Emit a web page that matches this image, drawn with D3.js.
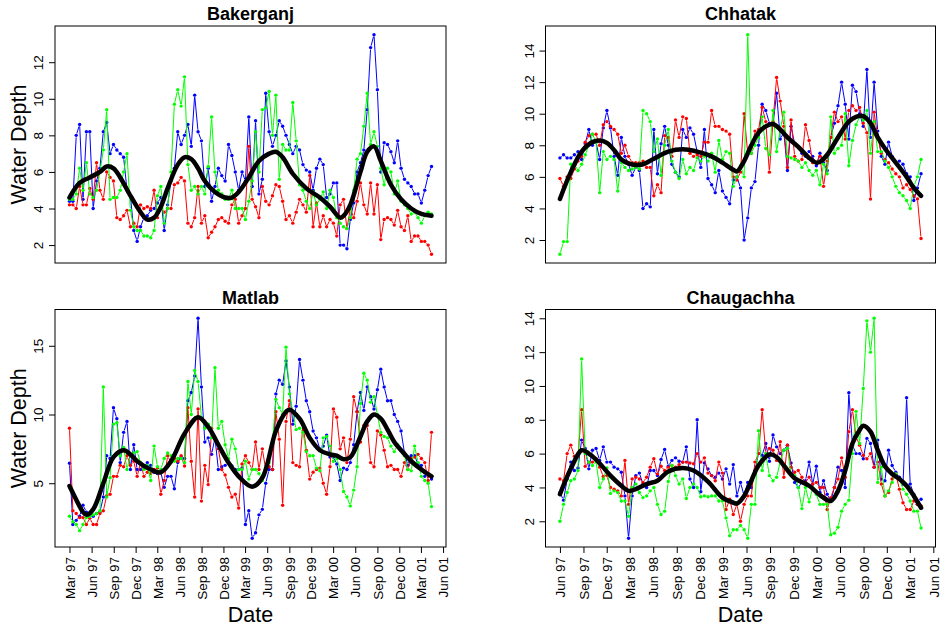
<!DOCTYPE html>
<html>
<head>
<meta charset="utf-8">
<script src="https://cdn.jsdelivr.net/npm/d3@7"></script>
<style>
  body { margin: 0; background: #fff; }
  svg { display: block; }
</style>
</head>
<body>
<div class="chart"></div>
<script>
// ---- data ----
const lastSample = "2001-04-14";

const bakBlue = [4.4,4.4,8.0,8.6,4.5,8.2,8.2,4.0,5.5,6.2, 8.2,8.7,7.0,7.5,7.2,7.0,6.8,5.0,4.7,2.8,
  2.2,3.0,3.5,3.6,3.9,4.0,4.3,4.6,2.8,4.2, 5.5,6.2,8.2,7.5,8.0,8.6,7.4,10.2,8.2,7.7,
  5.2,6.2,4.4,5.2,6.2,5.8,5.5,7.5,6.9,6.0, 5.0,6.0,5.5,9.0,5.2,8.8,4.8,5.6,10.3,8.2,
  7.4,8.0,8.8,8.5,8.0,7.5,7.0,7.4,7.2,6.4, 6.1,6.0,5.0,6.2,6.7,6.4,4.6,4.8,5.4,5.4,
  2.0,2.0,1.8,3.4,4.3,6.0,6.5,7.2,9.4,12.8, 13.5,10.5,6.0,7.6,7.5,7.1,6.5,7.7,6.2,5.6,
  5.4,5.2,4.8,4.8,4.3,5.0,5.8,6.3];
const bakGreen = [4.5,4.5,4.8,6.2,5.0,6.5,4.8,4.6,5.0,6.0, 7.2,9.4,4.5,4.6,4.6,5.0,6.0,7.0,3.9,3.0,
  2.8,2.8,2.5,2.5,2.4,2.8,4.7,5.2,3.2,4.0, 6.0,9.7,10.5,9.6,11.2,6.4,5.0,5.2,4.8,5.2,
  4.8,6.3,9.0,6.0,5.0,4.8,4.5,4.5,5.0,4.0, 4.0,4.0,3.4,4.4,5.5,8.2,6.0,9.4,9.5,10.4,
  8.0,10.2,5.6,7.5,7.2,7.2,9.8,7.7,5.3,5.0, 4.4,4.0,4.9,4.2,4.5,4.9,4.0,5.0,4.6,3.5,
  3.2,3.0,2.9,3.5,5.0,6.7,7.0,8.5,10.3,7.5, 8.2,7.4,6.2,5.3,6.2,6.0,4.8,5.5,4.4,4.2,
  4.0,3.7,3.8,3.5,3.2,3.6,3.8,3.7];
const bakRed = [4.2,4.2,4.0,5.2,4.2,4.2,5.1,4.5,6.5,5.0, 4.5,6.0,5.7,5.5,3.5,3.4,3.6,3.9,3.0,3.2,
  3.0,4.2,4.0,4.1,4.0,5.0,3.5,4.0,3.8,4.0, 4.0,5.3,5.4,5.7,5.5,3.2,3.0,3.5,5.2,3.2,
  3.6,2.4,2.7,3.0,3.4,3.5,3.3,3.2,4.2,4.5, 3.2,3.6,4.0,7.4,4.5,4.1,3.5,5.2,4.4,4.2,
  4.7,5.3,5.2,4.4,3.4,3.6,3.2,3.8,4.5,4.2, 3.8,5.8,3.0,4.3,3.0,3.6,3.0,3.4,3.2,2.5,
  4.2,4.5,2.9,4.0,3.5,4.4,5.4,4.2,3.7,5.4, 3.7,5.3,2.3,3.4,3.5,3.4,3.1,3.9,3.0,2.8,
  3.6,2.2,2.5,2.5,2.2,2.2,2.0,1.5];
const bakSmoothAt = [0,3,6,9,11,13,15,18,21,23, 25,27,29,32,34,36,38,40,43,46,
  48,50,53,56,59,61,63,66,70,74, 77,80,81,83,86,88,90,92,95,98, 101,104,107];
const bakSmooth = [4.6,5.4,5.7,6.0,6.3,6.2,5.7,4.7,3.8,3.4, 3.5,4.1,5.1,6.4,6.8,6.7,6.2,5.5,4.9,4.6,
  4.6,4.9,5.7,6.6,7.0,7.1,6.8,5.9,5.1,4.6, 4.1,3.5,3.6,4.2,6.0,7.1,7.4,6.6,5.3,4.5, 4.0,3.7,3.6];
const bakTicks = [2,4,6,8,10,12];

const chhBlue = [7.2,7.4,7.2,7.2,7.4,7.6,7.1,8.1,9.0,8.0, 8.2,7.1,9.1,10.2,9.1,7.3,6.1,8.5,7.3,6.8,
  6.1,6.6,6.4,4.0,4.3,4.1,9.0,6.2,8.1,9.2, 8.0,6.8,6.3,6.0,9.0,8.5,9.1,8.7,7.6,6.6,
  9.0,5.9,5.5,5.0,6.4,5.1,4.7,4.3,5.8,6.0, 5.3,2.0,3.4,5.3,5.7,8.0,10.6,10.2,9.4,9.3,
  11.3,8.4,8.8,6.4,9.2,8.1,7.9,7.5,7.3,7.6, 7.3,6.7,7.5,6.9,6.4,8.5,9.4,10.5,12.0,10.6,
  8.4,11.8,11.4,10.0,9.2,12.8,8.5,12.0,8.9,7.3, 6.8,8.2,7.3,6.9,7.0,6.8,6.2,6.0,4.5,5.3, 6.2];
const chhRed = [5.9,5.4,6.0,5.9,6.5,7.0,7.3,8.2,8.6,8.7, 8.7,8.0,9.3,9.5,9.2,9.0,8.7,7.5,8.0,7.3,
  6.9,6.9,6.9,7.0,6.6,6.6,4.8,5.5,5.0,8.6, 8.5,7.3,9.6,8.5,9.8,9.7,7.5,7.3,7.4,7.3,
  8.2,8.2,10.2,9.2,9.2,9.0,8.9,8.7,6.0,5.8, 6.3,10.0,7.5,7.5,8.9,9.0,10.4,9.5,6.3,9.5,
  12.3,10.8,9.2,6.6,9.6,7.3,7.0,7.1,9.3,8.3, 6.9,6.9,7.3,5.4,7.0,8.5,10.1,9.5,9.8,8.4,
  10.2,10.5,10.2,10.4,9.4,8.8,4.6,10.1,8.5,7.5, 7.1,6.9,6.5,6.2,6.0,5.3,5.5,5.2,4.8,4.6, 2.1];
const chhGreen = [1.1,1.9,1.9,6.8,6.8,6.4,6.8,7.4,8.0,8.7, 8.2,5.0,7.6,7.1,7.3,7.1,5.1,6.9,6.6,6.4,
  6.5,6.6,6.5,10.2,10.0,9.5,7.6,8.4,6.1,8.0, 9.0,7.0,6.3,5.9,7.1,6.2,6.6,6.4,7.2,7.0,
  7.3,7.0,7.5,6.3,8.3,7.1,7.6,7.5,5.4,6.0, 6.7,6.0,15.0,7.5,8.0,8.5,9.8,7.8,7.4,10.2,
  7.6,9.0,10.1,7.3,7.2,7.1,7.0,6.6,6.9,6.4, 6.1,6.4,5.5,6.8,6.2,9.8,7.5,7.8,8.0,10.0,
  6.7,8.3,9.3,9.8,9.6,10.2,7.5,9.5,7.6,7.6, 7.0,6.6,6.0,5.4,5.0,4.8,4.5,4.0,5.4,6.0, 7.1];
const chhSmoothAt = [0,3,6,9,11,13,15,17,19,21, 23,26,30,34,38,42,45,48,49,51,
  53,55,57,59,61,63,66,69,71,72, 74,77,80,82,84,86,88,90,93,96, 98,100];
const chhSmooth = [4.6,6.3,7.6,8.2,8.3,8.15,7.7,7.1,6.85,6.75, 6.8,7.15,7.6,7.75,7.6,7.3,6.9,6.45,6.35,7.0,
  8.0,8.8,9.2,9.35,9.0,8.5,7.9,7.2,6.9,6.95, 7.4,8.5,9.5,9.8,9.85,9.4,8.5,7.8,6.9,6.0, 5.3,4.8];
const chhTicks = [2,4,6,8,10,12,14];

const matBlue = [6.45,2.0,2.3,2.6,3.4,2.9,2.7,2.6,2.8,2.9, 4.0,7.0,6.8,10.5,9.7,6.5,8.7,9.5,6.0,7.8,
  6.0,6.0,6.2,6.5,6.3,5.8,5.7,5.8,4.7,5.5, 5.5,4.6,6.5,6.9,6.8,11.0,11.6,12.8,17.0,12.0,
  8.0,8.3,7.1,8.3,6.0,6.2,6.3,6.5,6.25,6.0, 6.0,6.1,2.0,3.0,1.0,1.4,2.7,3.1,5.0,6.0,
  6.0,11.5,12.5,12.2,13.9,12.0,9.3,10.6,14.0,12.5, 11.0,10.2,8.8,8.3,7.5,7.7,8.5,6.9,6.9,6.4,
  5.2,6.1,6.0,6.5,7.8,10.2,11.6,10.3,12.0,11.3, 10.4,11.8,13.3,12.0,11.0,11.0,10.0,9.5,8.8,7.2,
  6.3,7.0,7.0,6.4,6.3,5.5,5.7,5.3];
const matRed = [9.0,3.0,2.8,2.5,2.5,2.0,2.45,2.0,2.0,2.8, 3.0,4.1,4.2,5.5,5.5,6.3,6.2,7.0,6.3,6.6,
  5.5,6.5,5.5,5.8,5.7,6.0,6.1,4.2,5.2,7.0, 6.5,6.8,6.6,7.0,6.25,10.5,6.6,4.0,10.4,3.7,
  6.3,4.9,9.0,8.2,7.5,6.0,5.6,4.7,4.0,4.2, 3.2,6.4,7.0,6.5,6.0,8.0,6.0,7.5,6.0,6.2,
  6.0,10.2,8.2,3.4,9.5,11.0,6.5,6.3,6.2,9.3, 7.4,5.3,5.8,6.0,6.1,5.0,4.2,6.2,10.4,9.8,
  7.5,8.3,6.5,8.2,11.3,10.2,8.0,9.2,9.2,6.5, 6.2,8.8,8.5,7.4,6.2,6.3,6.0,6.0,5.5,6.5,
  6.0,6.8,6.9,7.1,6.8,6.5,5.2,8.7];
const matGreen = [2.6,2.2,2.0,1.55,2.0,2.5,2.6,2.7,2.8,3.0, 12.0,4.0,5.4,9.3,9.4,7.0,7.6,6.0,7.0,7.2,
  7.3,6.5,6.0,6.3,5.2,7.7,6.2,6.0,6.8,7.2, 7.0,6.6,6.8,6.8,6.5,12.4,10.0,13.2,12.4,9.8,
  9.0,9.3,8.3,13.4,9.0,9.5,7.8,6.8,8.2,7.5, 6.0,6.0,6.6,5.3,6.0,6.0,5.7,5.2,6.0,6.5,
  8.0,11.1,10.5,10.0,14.9,11.5,10.2,8.9,9.0,8.7, 7.3,7.0,7.0,6.1,5.9,8.3,8.4,7.7,6.6,6.8,
  6.0,4.4,4.0,3.35,4.5,6.2,10.8,13.0,12.5,10.9, 11.3,10.0,8.7,8.4,8.3,7.7,7.3,7.8,7.4,7.0,
  6.0,5.9,7.7,6.5,5.5,5.2,5.0,3.3];
const matSmoothAt = [0,2,4,5,7,10,13,16,18,20, 24,27,30,34,38,41,44,47,50,54,
  57,61,64,65,68,71,74,77,79,81, 83,86,88,90,92,94,96,98,101,104, 107];
const matSmooth = [4.8,3.8,2.9,2.7,3.1,5.0,6.9,7.4,7.1,6.6, 6.0,5.8,6.6,8.6,9.8,9.1,7.8,6.5,5.5,4.75,
  5.4,8.8,10.2,10.35,9.7,8.3,7.4,7.1,7.0,6.75, 6.9,8.4,9.5,10.0,9.7,8.9,8.0,7.4,6.6,6.0, 5.5];
const matTicks = [5,10,15];

const chaBlue = [3.7,3.25,4.5,5.5,5.0,5.15,6.8,6.3,5.1,6.2, 6.3,5.6,6.4,5.5,5.5,5.2,5.1,4.9,3.5,1.0,
  3.5,4.7,4.85,4.2,4.0,5.0,5.0,4.7,5.65,6.25, 5.25,5.6,5.75,5.55,5.5,6.4,4.5,4.0,8.0,3.75,
  5.45,5.1,4.7,4.6,4.85,4.5,5.1,4.2,5.35,3.5, 4.3,3.5,4.3,4.0,5.0,6.0,5.9,6.6,5.55,7.1,
  6.4,6.0,6.2,6.5,5.45,4.3,4.0,4.3,4.4,5.5, 4.2,5.25,3.7,4.4,3.6,3.2,4.0,5.2,5.0,4.0,
  9.6,6.5,6.0,6.0,5.7,6.9,6.6,5.2,6.8,4.5, 4.4,6.2,5.3,4.9,4.6,4.2,9.3,4.2,3.6,3.0, 3.3];
const chaRed = [4.5,4.4,6.0,6.5,5.85,5.8,8.6,5.25,5.5,5.5, 5.7,5.2,4.65,4.7,4.0,3.9,3.8,3.5,5.6,3.0,
  4.5,4.6,4.5,4.3,4.6,5.2,5.7,4.8,5.25,5.0, 5.2,5.3,5.2,5.35,5.5,5.5,5.45,5.4,6.0,5.5,
  5.75,4.85,4.7,4.4,5.5,4.85,2.7,3.3,2.4,3.0, 2.0,3.0,3.5,3.5,5.5,6.0,8.6,6.0,6.3,6.2,
  5.6,6.7,4.6,6.5,5.2,4.9,5.0,4.6,4.3,4.6, 4.2,4.3,4.0,4.0,2.7,3.4,4.0,4.5,5.75,4.6,
  7.3,8.6,7.0,6.5,5.9,5.7,6.0,5.2,5.5,4.2, 3.5,3.7,4.5,4.8,3.9,3.1,2.7,2.7,3.2,3.0, 2.9];
const chaGreen = [2.0,3.0,3.7,4.4,4.5,5.0,11.6,6.0,5.5,5.3, 5.5,4.0,4.5,5.15,3.65,3.8,3.7,3.2,3.2,2.3,
  4.0,4.2,3.7,3.4,3.5,3.8,4.0,3.0,2.4,2.6, 4.35,5.3,4.7,4.2,4.5,3.35,4.0,4.2,4.0,3.45,
  3.5,3.45,3.5,3.5,3.2,3.2,2.2,1.15,1.5,1.5, 1.75,1.5,1.0,3.0,3.0,7.35,5.0,6.0,4.7,4.4,
  4.6,5.5,6.2,6.3,4.75,4.7,4.0,2.75,4.0,3.15, 4.0,3.6,3.0,3.0,3.0,1.2,1.3,1.65,2.6,3.0,
  3.25,6.0,8.5,6.6,9.85,13.85,12.0,14.0,4.3,5.2, 3.5,3.8,4.3,4.8,4.5,3.9,3.6,3.2,2.6,2.6, 1.6];
const chaSmoothAt = [0,3,6,8,10,14,17,19,21,24, 27,30,34,37,41,45,48,49,51,53,
  55,58,60,62,65,69,72,75,77,79, 81,83,84,86,88,90,92,94,96,98, 100];
const chaSmooth = [3.6,5.1,6.2,6.0,5.65,4.7,4.1,3.8,3.9,4.2, 4.4,4.95,5.15,5.0,4.35,3.4,3.1,3.05,3.5,4.4,
  5.3,5.95,5.8,5.3,4.55,4.1,3.55,3.2,3.8,5.0, 6.6,7.4,7.65,7.3,6.2,5.25,4.8,4.5,4.1,3.5, 2.8];
const chaTicks = [2,4,6,8,10,12,14];

// ---- layout ----
const width = 941, height = 628;
const font = "'Liberation Sans', Arial, Helvetica, sans-serif";
const parse = d3.timeParse("%Y-%m-%d");

const panels = [
  {title: "Bakerganj", blue: bakBlue, green: bakGreen, red: bakRed, smAt: bakSmoothAt, sm: bakSmooth,
   ticks: bakTicks, start: "1997-03-01", box: [55, 26, 446, 263], xAxis: false, yLabel: true},
  {title: "Chhatak", blue: chhBlue, green: chhGreen, red: chhRed, smAt: chhSmoothAt, sm: chhSmooth,
   ticks: chhTicks, start: "1997-06-01", box: [545.5, 26, 935.5, 263], xAxis: false, yLabel: false},
  {title: "Matlab", blue: matBlue, green: matGreen, red: matRed, smAt: matSmoothAt, sm: matSmooth,
   ticks: matTicks, start: "1997-03-01", box: [55, 309.5, 446, 547], xAxis: true, yLabel: true},
  {title: "Chaugachha", blue: chaBlue, green: chaGreen, red: chaRed, smAt: chaSmoothAt, sm: chaSmooth,
   ticks: chaTicks, start: "1997-06-01", box: [545.5, 309.5, 935.5, 547], xAxis: true, yLabel: false}
];

const svg = d3.select(".chart").append("svg")
  .attr("width", width).attr("height", height)
  .style("font-family", font);

// R type="b": segments stop short of each point
function gapped(pts, g) {
  let d = "";
  for (let i = 1; i < pts.length; i++) {
    const [ax, ay] = pts[i - 1], [bx, by] = pts[i];
    const dx = bx - ax, dy = by - ay, L = Math.hypot(dx, dy);
    if (L <= 2 * g) continue;
    const ux = dx / L, uy = dy / L;
    d += `M${ax + ux * g},${ay + uy * g}L${bx - ux * g},${by - uy * g}`;
  }
  return d;
}

panels.forEach(p => {
  const [x0, y0, x1, y1] = p.box;
  const n = p.blue.length;
  const t0 = parse(p.start), t1 = parse(lastSample);
  const dateAt = d3.scaleLinear().domain([0, n - 1]).range([+t0, +t1]);
  const pad = (t1 - t0) * 0.04;
  const x = d3.scaleTime().domain([new Date(+t0 - pad), new Date(+t1 + pad)]).range([x0, x1]);

  const [lo, hi] = d3.extent([...p.blue, ...p.green, ...p.red]);
  const yp = (hi - lo) * 0.04;
  const y = d3.scaleLinear().domain([lo - yp, hi + yp]).range([y1, y0]);

  const g = svg.append("g");

  [["blue", "#0000ff"], ["red", "#ff0000"], ["green", "#00ff00"]].forEach(([key, col]) => {
    const vals = p[key];
    const pts = vals.map((v, i) => [x(new Date(dateAt(i))), y(v)]);
    g.append("path")
      .attr("d", gapped(pts, 2))
      .attr("fill", "none")
      .attr("stroke", col)
      .attr("stroke-width", 1);
    g.selectAll(null)
      .data(vals)
      .enter()
      .append("circle")
      .attr("cx", (d, i) => x(new Date(dateAt(i))))
      .attr("cy", d => y(d))
      .attr("r", 1.7)
      .attr("fill", col);
  });

  // smooth curve
  const line = d3.line()
    .x((d, k) => x(new Date(dateAt(p.smAt[k]))))
    .y(d => y(d))
    .curve(d3.curveCatmullRom.alpha(0.5));
  g.append("path")
    .attr("d", line(p.sm))
    .attr("fill", "none")
    .attr("stroke", "#000")
    .attr("stroke-width", 4.5)
    .attr("stroke-linecap", "round")
    .attr("stroke-linejoin", "round");

  // box
  g.append("rect")
    .attr("x", x0).attr("y", y0)
    .attr("width", x1 - x0).attr("height", y1 - y0)
    .attr("fill", "none").attr("stroke", "#000").attr("stroke-width", 1);

  // y axis
  const yAxis = d3.axisLeft(y).tickValues(p.ticks).tickSize(6).tickFormat(d3.format("d"));
  const ya = g.append("g").attr("transform", `translate(${x0},0)`).call(yAxis);
  ya.select(".domain").remove();
  ya.selectAll("line").attr("stroke", "#000");
  ya.selectAll("text")
    .attr("transform", "rotate(-90)")
    .attr("x", 0).attr("y", -12).attr("dy", 0)
    .attr("text-anchor", "middle")
    .attr("fill", "#000")
    .style("font-size", "13.5px").style("font-family", font);

  if (p.xAxis) {
    const qTicks = d3.timeMonth.range(x.domain()[0], x.domain()[1]).filter(d => d.getMonth() % 3 === 2);
    const xAxis = d3.axisBottom(x).tickValues(qTicks).tickSize(6).tickFormat(d3.timeFormat("%b %y"));
    const xa = g.append("g").attr("transform", `translate(0,${y1})`).call(xAxis);
    xa.select(".domain").remove();
    xa.selectAll("line").attr("stroke", "#000");
    xa.selectAll("text")
      .attr("transform", "rotate(-90)")
      .attr("x", -10).attr("y", 0).attr("dy", "0.35em")
      .attr("text-anchor", "end")
      .attr("fill", "#000")
      .style("font-size", "13.5px").style("font-family", font);

    g.append("text")
      .attr("x", (x0 + x1) / 2).attr("y", 621.5)
      .attr("text-anchor", "middle")
      .style("font-size", "21.5px")
      .text("Date");
  }

  if (p.yLabel) {
    g.append("text")
      .attr("transform", `translate(25.5,${(y0 + y1) / 2}) rotate(-90)`)
      .attr("text-anchor", "middle")
      .style("font-size", "21.5px")
      .text("Water Depth");
  }

  g.append("text")
    .attr("x", (x0 + x1) / 2).attr("y", y0 - 6)
    .attr("text-anchor", "middle")
    .style("font-size", "18px").style("font-weight", "bold")
    .text(p.title);
});
</script>
</body>
</html>
